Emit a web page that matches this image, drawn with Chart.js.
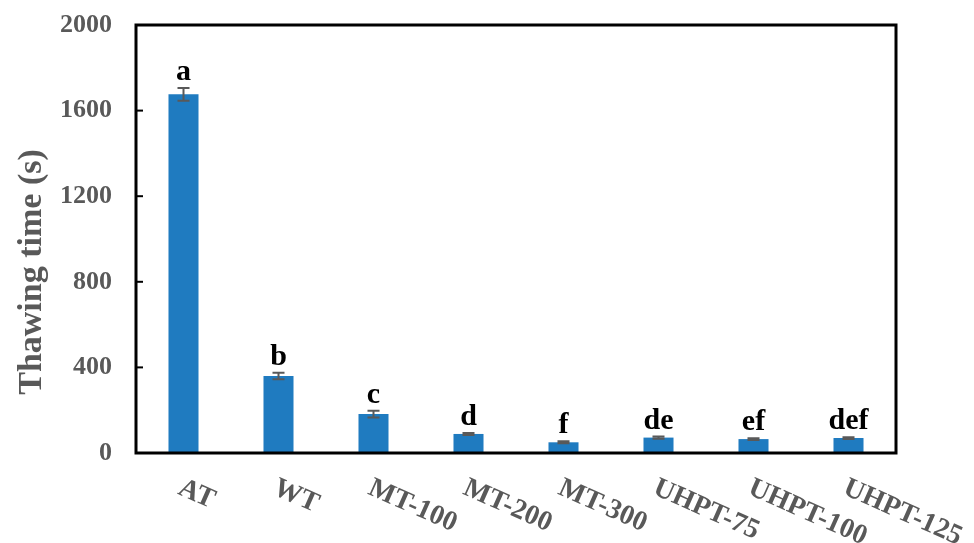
<!DOCTYPE html>
<html>
<head>
<meta charset="utf-8">
<script src="https://cdn.jsdelivr.net/npm/chart.js@4/dist/chart.umd.min.js"></script>
<style>
  html, body { margin: 0; padding: 0; background: #fff; }
  #wrap { width: 974px; height: 543px; }
</style>
</head>
<body>
<div id="wrap"><canvas id="c" width="974" height="543"></canvas></div>
<script>
// Thawing time per treatment, mean ± SD, with significance letters
const categories = ['AT', 'WT', 'MT-100', 'MT-200', 'MT-300', 'UHPT-75', 'UHPT-100', 'UHPT-125'];
const thawingTime = [1676, 360, 182, 89, 50, 72, 65, 70];
const errors = [30, 15, 16, 5, 5, 5, 4, 4];
const letters = ['a', 'b', 'c', 'd', 'f', 'de', 'ef', 'def'];
const yTicks = [0, 400, 800, 1200, 1600, 2000];
const yTitle = 'Thawing time (s)';

const SERIF = '"Liberation Serif", "Times New Roman", serif';
const GRAY = '#595959';

const decorations = {
  id: 'decorations',
  afterDatasetsDraw(chart) {
    const ctx = chart.ctx;
    const area = chart.chartArea;
    const x = chart.scales.x;
    const y = chart.scales.y;
    ctx.save();

    // error bars
    ctx.strokeStyle = GRAY;
    ctx.lineWidth = 2;
    thawingTime.forEach((v, i) => {
      const cx = x.getPixelForValue(i);
      const yHi = y.getPixelForValue(v + errors[i]);
      const yLo = y.getPixelForValue(v - errors[i]);
      ctx.beginPath();
      ctx.moveTo(cx, yHi); ctx.lineTo(cx, yLo);
      ctx.moveTo(cx - 6, yHi); ctx.lineTo(cx + 6, yHi);
      ctx.moveTo(cx - 6, yLo); ctx.lineTo(cx + 6, yLo);
      ctx.stroke();
    });

    // significance letters
    ctx.fillStyle = '#000';
    ctx.font = 'bold 30px ' + SERIF;
    ctx.textAlign = 'center';
    ctx.textBaseline = 'alphabetic';
    letters.forEach((t, i) => {
      const cx = x.getPixelForValue(i);
      const top = y.getPixelForValue(thawingTime[i] + errors[i]);
      ctx.fillText(t, cx, top - 8);
    });

    // frame
    ctx.strokeStyle = '#000';
    ctx.lineWidth = 3;
    ctx.strokeRect(area.left, area.top, area.right - area.left, area.bottom - area.top);

    // inward y ticks and their labels
    ctx.lineWidth = 2;
    ctx.fillStyle = GRAY;
    ctx.font = 'bold 26px ' + SERIF;
    ctx.textAlign = 'right';
    ctx.textBaseline = 'middle';
    yTicks.forEach(v => {
      const py = y.getPixelForValue(v);
      ctx.beginPath();
      ctx.moveTo(area.left, py); ctx.lineTo(area.left + 7, py);
      ctx.stroke();
      ctx.fillText(String(v), area.left - 24, py);
    });

    // slanted category labels
    ctx.font = 'bold 28px ' + SERIF;
    ctx.textAlign = 'left';
    ctx.textBaseline = 'top';
    categories.forEach((c, i) => {
      const cx = x.getPixelForValue(i);
      ctx.save();
      ctx.translate(cx + 2, area.bottom + 21);
      ctx.rotate(24 * Math.PI / 180);
      ctx.fillText(c, 0, 0);
      ctx.restore();
    });

    // y axis title
    ctx.save();
    ctx.font = 'bold 34px ' + SERIF;
    ctx.textAlign = 'center';
    ctx.textBaseline = 'middle';
    ctx.translate(32, 272);
    ctx.rotate(-Math.PI / 2);
    ctx.fillText(yTitle, 0, 0);
    ctx.restore();

    ctx.restore();
  }
};

new Chart(document.getElementById('c'), {
  type: 'bar',
  data: {
    labels: categories,
    datasets: [{
      data: thawingTime,
      backgroundColor: '#1f7bc0',
      borderWidth: 0,
      categoryPercentage: 1,
      barPercentage: 0.316
    }]
  },
  options: {
    responsive: false,
    animation: false,
    devicePixelRatio: 1,
    layout: { padding: { top: 25, right: 78, left: 136, bottom: 0 } },
    plugins: { legend: { display: false }, tooltip: { enabled: false } },
    scales: {
      x: {
        grid: { display: false },
        border: { display: false },
        ticks: { display: false },
        afterFit(scale) { scale.height = 90; }
      },
      y: {
        min: 0, max: 2000,
        afterBuildTicks(scale) { scale.ticks = yTicks.map(v => ({ value: v })); },
        afterFit(scale) { scale.width = 0; },
        grid: { display: false, drawTicks: false },
        border: { display: false },
        ticks: { display: false },
        title: { display: false }
      }
    }
  },
  plugins: [decorations]
});
</script>
</body>
</html>
